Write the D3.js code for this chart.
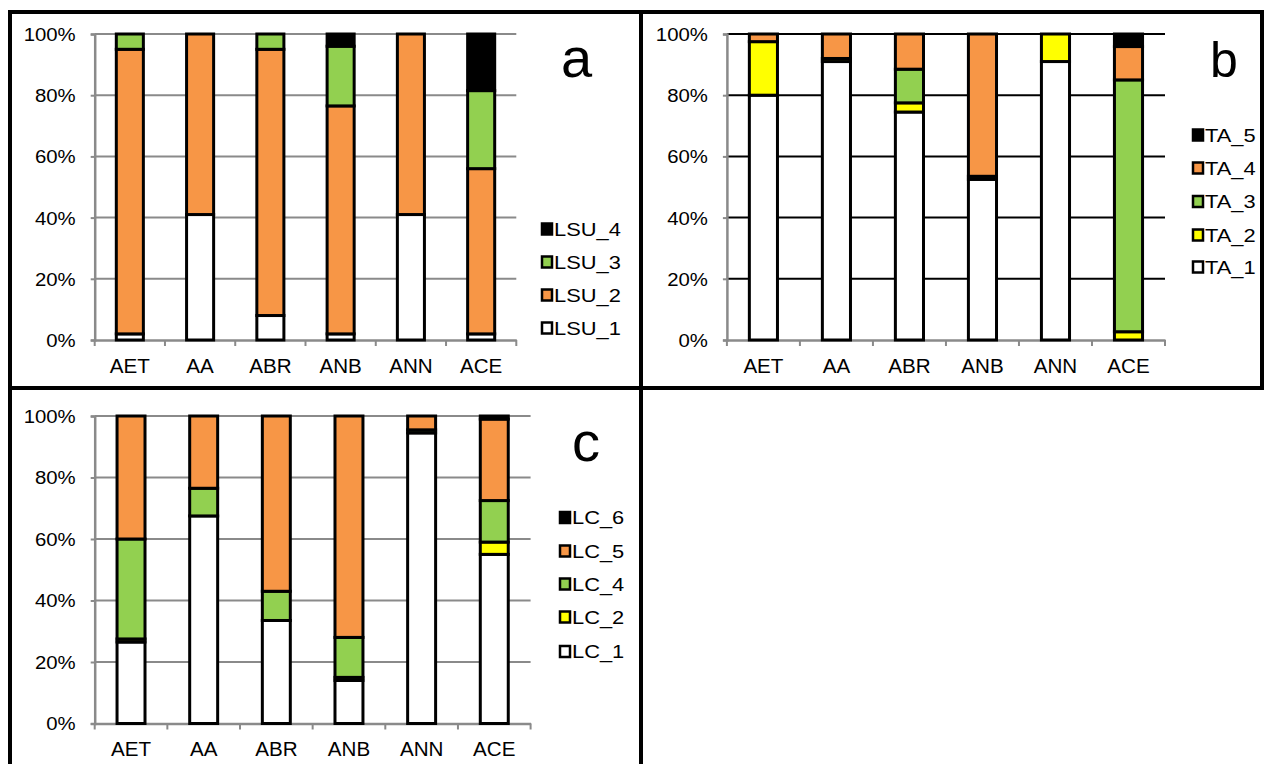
<!DOCTYPE html>
<html><head><meta charset="utf-8">
<script src="https://cdn.jsdelivr.net/npm/d3@7"></script>
<style>body{margin:0;background:#fff}svg{display:block}text{font-family:"Liberation Sans",Arial,sans-serif}</style>
</head><body><svg id="c" width="1264" height="764"></svg>
<script>
const categories = ["AET","AA","ABR","ANB","ANN","ACE"];
const yTicks = [0,20,40,60,80,100];

// Panel a
const lsuKeys = ["LSU_1","LSU_2","LSU_3","LSU_4"];
const LSU_1 = [2, 41, 8, 2, 41, 2];
const LSU_2 = [93, 59, 87, 74.5, 59, 54];
const LSU_3 = [5, 0, 5, 19.5, 0, 25.5];
const LSU_4 = [0, 0, 0, 4, 0, 18.5];

// Panel b
const taKeys = ["TA_1","TA_2","TA_3","TA_4","TA_5"];
const TA_1 = [80, 91, 74.5, 52.5, 91, 0];
const TA_2 = [17.5, 1, 3, 0, 9, 2.7];
const TA_3 = [0, 0, 11, 1, 0, 82.3];
const TA_4 = [2.5, 8, 11.5, 46.5, 0, 10.9];
const TA_5 = [0, 0, 0, 0, 0, 4.1];

// Panel c
const lcKeys = ["LC_1","LC_2","LC_4","LC_5","LC_6"];
const LC_1 = [26.5, 67.5, 33.5, 14, 94.5, 55];
const LC_2 = [1, 0, 0, 1, 0, 4];
const LC_4 = [32.5, 9, 9.5, 13, 1, 13.5];
const LC_5 = [40, 23.5, 57, 72, 4.5, 26.5];
const LC_6 = [0, 0, 0, 0, 0, 1];

const colorA = {LSU_1:"#ffffff", LSU_2:"#f79646", LSU_3:"#92d050", LSU_4:"#000000"};
const colorB = {TA_1:"#ffffff", TA_2:"#ffff00", TA_3:"#92d050", TA_4:"#f79646", TA_5:"#000000"};
const colorC = {LC_1:"#ffffff", LC_2:"#ffff00", LC_4:"#92d050", LC_5:"#f79646", LC_6:"#000000"};

function rows(keys, arrays){
  return categories.map((c,i)=>{const r={cat:c}; keys.forEach((k,j)=>r[k]=arrays[j][i]); return r;});
}

const panels = [
  {keys:lsuKeys, data:rows(lsuKeys,[LSU_1,LSU_2,LSU_3,LSU_4]), color:colorA,
   x0:94.7, x1:516.3, yb:340, yt:34, grid:"#8a8a8a", lx:541, ly:[328,295,262,229], xpad:19,
   label:"a", labX:561, labY:77, labSize:56},
  {keys:taKeys, data:rows(taKeys,[TA_1,TA_2,TA_3,TA_4,TA_5]), color:colorB,
   x0:726.9, x1:1165, yb:340, yt:34, grid:"#000000", lx:1192, ly:[267,235,201.5,168,135], xpad:19,
   label:"b", labX:1210, labY:77, labSize:50},
  {keys:lcKeys, data:rows(lcKeys,[LC_1,LC_2,LC_4,LC_5,LC_6]), color:colorC,
   x0:94.7, x1:530.6, yb:723.5, yt:416, grid:"#8a8a8a", lx:559, ly:[651.5,617,584,551,517.5], xpad:18,
   label:"c", labX:572, labY:461, labSize:56}
];

const svg = d3.select("#c");
const axisGray = "#8a8a8a";
const tickSX = 1.1, legSX = 1.15;

panels.forEach(p=>{
  const g = svg.append("g");
  const x = d3.scaleBand().domain(categories).range([p.x0,p.x1]).padding(0);
  const y = d3.scaleLinear().domain([0,100]).range([p.yb,p.yt]);

  // gridlines
  g.append("g").selectAll("line").data(yTicks.filter(t=>t>0)).join("line")
    .attr("x1",p.x0).attr("x2",p.x1).attr("y1",d=>y(d)).attr("y2",d=>y(d))
    .attr("stroke",p.grid).attr("stroke-width",2);

  // y axis
  const ya = g.append("g").attr("transform",`translate(${p.x0},0)`)
    .call(d3.axisLeft(y).tickValues(yTicks).tickFormat(d=>d+"%").tickSize(4).tickPadding(15));
  ya.select(".domain").attr("stroke",axisGray).attr("stroke-width",2.5);
  ya.selectAll(".tick line").attr("stroke",axisGray).attr("stroke-width",2);
  ya.selectAll("text").attr("font-size",18.5).attr("fill","#000").attr("dy","0.35em")
    .attr("x",-19/tickSX).attr("transform",`scale(${tickSX},1)`);

  // x axis
  const xa = g.append("g").attr("transform",`translate(0,${p.yb})`)
    .call(d3.axisBottom(x).tickSize(0).tickPadding(p.xpad));
  xa.select(".domain").attr("stroke",axisGray).attr("stroke-width",2.5);
  xa.selectAll(".tick text").attr("font-size",20).attr("fill","#000")
    .attr("transform",`scale(${1.03},1)`);
  g.append("g").selectAll("line").data(d3.range(categories.length+1)).join("line")
    .attr("x1",i=>p.x0+i*x.step()).attr("x2",i=>p.x0+i*x.step())
    .attr("y1",p.yb).attr("y2",p.yb+6).attr("stroke",axisGray).attr("stroke-width",2);

  // bars
  const stack = d3.stack().keys(p.keys)(p.data);
  const bw = x.bandwidth()*0.385;
  g.append("g").selectAll("g").data(stack).join("g")
    .attr("fill",d=>p.color[d.key])
    .selectAll("rect").data(d=>d.filter(s=>s[1]-s[0]>0)).join("rect")
    .attr("x",d=>x(d.data.cat)+x.bandwidth()/2-bw/2)
    .attr("width",bw)
    .attr("y",d=>y(d[1]))
    .attr("height",d=>y(d[0])-y(d[1]))
    .attr("stroke","#000").attr("stroke-width",3);

  // legend (top to bottom = reverse key order)
  const lg = g.append("g");
  p.keys.forEach((k,i)=>{
    const cy = p.ly[i];
    lg.append("rect").attr("x",p.lx+1).attr("y",cy-5.5).attr("width",10).attr("height",11)
      .attr("fill",p.color[k]).attr("stroke","#000").attr("stroke-width",2.5);
    lg.append("text").attr("transform",`translate(${p.lx+13},${cy}) scale(${legSX},1)`)
      .attr("dy","0.35em").attr("font-size",19).text(k);
  });

  g.append("text").attr("x",p.labX).attr("y",p.labY).attr("font-size",p.labSize).text(p.label);
});

// panel borders
const borders = [
  [8,12,1264,12],[10,10,10,764],[1262,10,1262,390],[8,388,1264,388],[641,10,641,764]
];
svg.append("g").selectAll("line").data(borders).join("line")
  .attr("x1",d=>d[0]).attr("y1",d=>d[1]).attr("x2",d=>d[2]).attr("y2",d=>d[3])
  .attr("stroke","#000").attr("stroke-width",4);
</script></body></html>
